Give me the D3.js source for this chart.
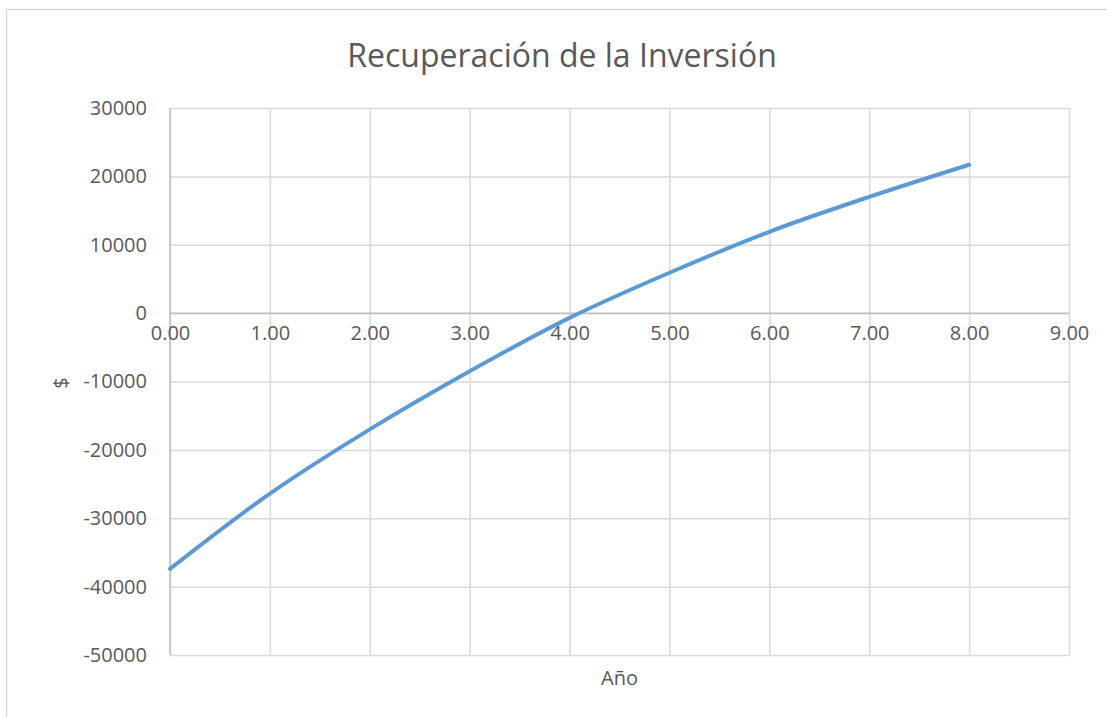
<!DOCTYPE html>
<html>
<head>
<meta charset="utf-8">
<script src="https://cdn.jsdelivr.net/npm/d3@7"></script>
<style>
  html, body { margin: 0; padding: 0; background: #fff; }
  svg { display: block; font-family: "Open Sans", "Noto Sans", sans-serif; }
</style>
</head>
<body>
<svg id="chart" width="1107" height="717"></svg>
<script>
// Cumulative cash position by year
const years = [0, 1, 2, 3, 4, 5, 6, 7, 8];
const balance = [-37400, -26400, -17000, -8500, -700, 5900, 11900, 17000, 21700];
const xTicks = [0, 1, 2, 3, 4, 5, 6, 7, 8, 9];
const yTicks = [30000, 20000, 10000, 0, -10000, -20000, -30000, -40000, -50000];

const titleText = "Recuperación de la Inversión";
const xTitle = "Año";
const yTitle = "$";

const svg = d3.select("#chart");
const W = 1107, H = 717;
const plot = { left: 170, top: 108, right: 1069, bottom: 655 };

const x = d3.scaleLinear().domain([0, 9]).range([plot.left, plot.right]);
const y = d3.scaleLinear().domain([-50000, 30000]).range([plot.bottom, plot.top]);

const textColor = "#595959";
const gridColor = "#d9d9d9";
const axisColor = "#bfbfbf";
const tickFont = "20px";

// Chart frame
svg.append("rect")
  .attr("x", 6.5).attr("y", 9.5)
  .attr("width", W + 20).attr("height", H + 20)
  .attr("fill", "#fff").attr("stroke", gridColor).attr("stroke-width", 1.5);

// Horizontal gridlines
svg.append("g")
  .attr("transform", `translate(${plot.left},0)`)
  .call(d3.axisLeft(y).tickValues(yTicks).tickSize(-(plot.right - plot.left)).tickFormat(""))
  .call(g => g.select(".domain").remove())
  .call(g => g.selectAll("line").attr("stroke", gridColor).attr("stroke-width", 1.5));

// Vertical gridlines
svg.append("g")
  .attr("transform", `translate(0,${plot.bottom})`)
  .call(d3.axisBottom(x).tickValues(xTicks).tickSize(-(plot.bottom - plot.top)).tickFormat(""))
  .call(g => g.select(".domain").remove())
  .call(g => g.selectAll("line").attr("stroke", gridColor).attr("stroke-width", 1.5));

// Value axis line
svg.append("line")
  .attr("x1", x(0)).attr("x2", x(0))
  .attr("y1", plot.top).attr("y2", plot.bottom)
  .attr("stroke", axisColor).attr("stroke-width", 1.5);

// Category axis crossing at zero
svg.append("line")
  .attr("x1", plot.left).attr("x2", plot.right)
  .attr("y1", y(0)).attr("y2", y(0))
  .attr("stroke", axisColor).attr("stroke-width", 1.5);

// Y tick labels (plain hyphen for negatives)
svg.append("g")
  .attr("transform", `translate(${plot.left},0)`)
  .call(d3.axisLeft(y).tickValues(yTicks).tickSize(0).tickPadding(23).tickFormat(d => String(d)))
  .call(g => g.select(".domain").remove())
  .call(g => g.selectAll("text")
    .attr("fill", textColor)
    .style("font-size", tickFont)
    .style("font-family", "'Open Sans', sans-serif"));

// X tick labels, drawn under the zero line
svg.append("g")
  .attr("transform", `translate(0,${y(0)})`)
  .call(d3.axisBottom(x).tickValues(xTicks).tickSize(0).tickPadding(13).tickFormat(d => d.toFixed(2)))
  .call(g => g.select(".domain").remove())
  .call(g => g.selectAll("text")
    .attr("fill", textColor)
    .style("font-size", tickFont)
    .style("font-family", "'Open Sans', sans-serif"));

// Series line
const data = years.map((yr, i) => ({ yr, v: balance[i] }));
const line = d3.line()
  .x(d => x(d.yr))
  .y(d => y(d.v))
  .curve(d3.curveCatmullRom.alpha(0.5));

svg.append("path")
  .datum(data)
  .attr("d", line)
  .attr("fill", "none")
  .attr("stroke", "#5b9bd5")
  .attr("stroke-width", 4)
  .attr("stroke-linecap", "round")
  .attr("stroke-linejoin", "round");

// Title
svg.append("text")
  .attr("x", 562).attr("y", 67)
  .attr("text-anchor", "middle")
  .attr("fill", textColor)
  .style("font-size", "32px")
  .text(titleText);

// Axis titles
svg.append("text")
  .attr("x", (plot.left + plot.right) / 2).attr("y", 685)
  .attr("text-anchor", "middle")
  .attr("fill", textColor)
  .style("font-size", "20px")
  .text(xTitle);

svg.append("text")
  .attr("transform", `translate(68,383) rotate(-90)`)
  .attr("text-anchor", "middle")
  .attr("fill", textColor)
  .style("font-size", "20px")
  .text(yTitle);
</script>
</body>
</html>
